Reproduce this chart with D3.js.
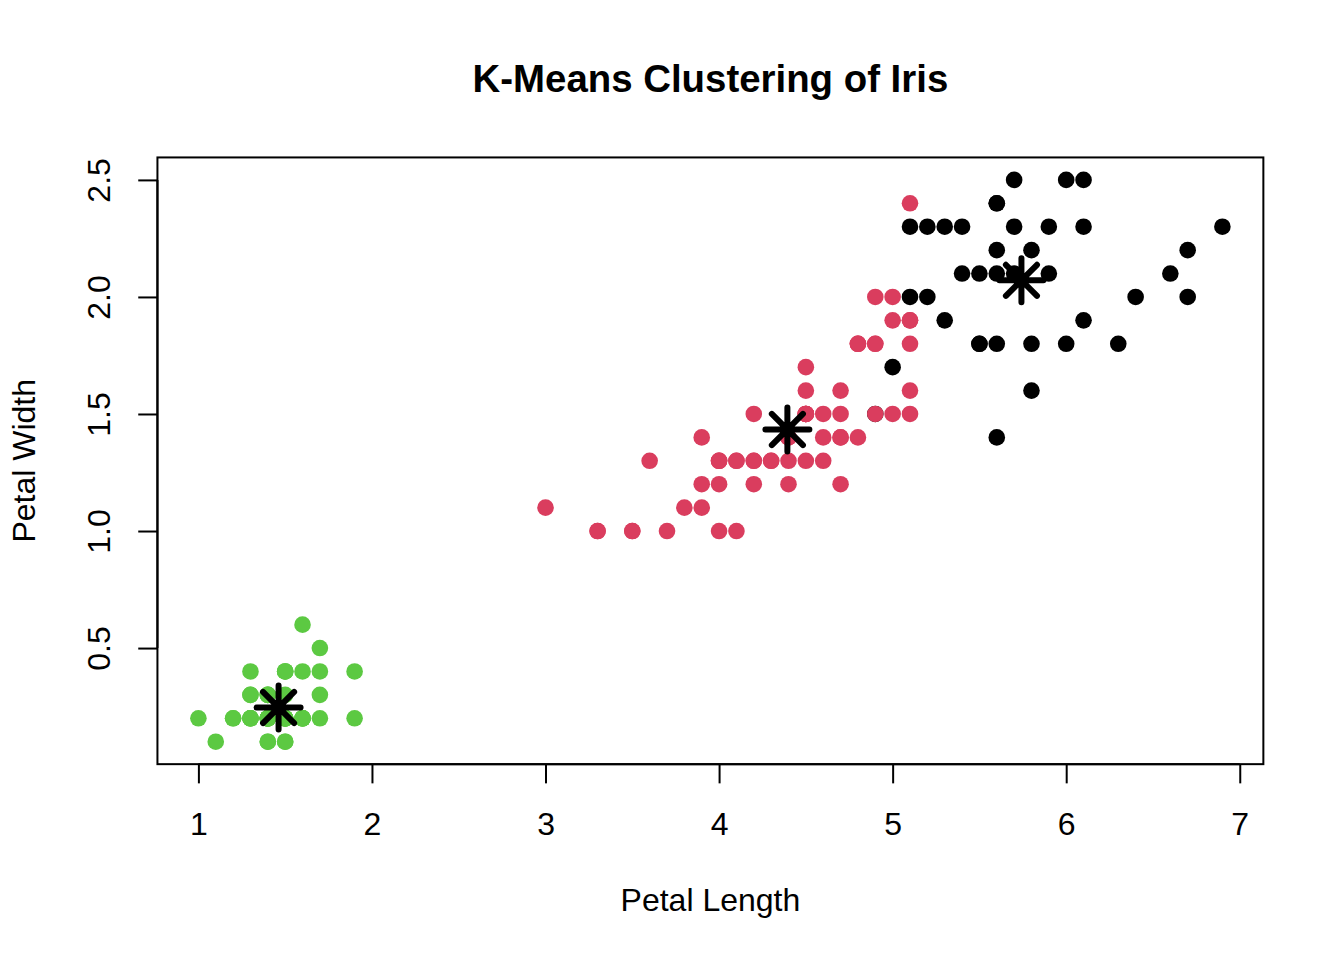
<!DOCTYPE html>
<html lang="en">
<head>
<meta charset="UTF-8">
<title>K-Means Clustering of Iris</title>
<script src="https://d3js.org/d3.v7.min.js"></script>
<style>
    body { margin: 0; background: #fff; }
    svg { display: block; }
    text { font-family: "Liberation Sans", Arial, Helvetica, sans-serif; fill: #000; }
    .chart-title { font-size: 38.4px; font-weight: bold; text-anchor: middle; }
    .axis-label { font-size: 32px; text-anchor: middle; }
    .tick text { font-size: 32px; }
</style>
</head>
<body>
<div id="chart"></div>
<script>
// iris petal measurements, rows 1..150 in dataset order
const petalLength = [
    1.4, 1.4, 1.3, 1.5, 1.4, 1.7, 1.4, 1.5, 1.4, 1.5,
    1.5, 1.6, 1.4, 1.1, 1.2, 1.5, 1.3, 1.4, 1.7, 1.5,
    1.7, 1.5, 1.0, 1.7, 1.9, 1.6, 1.6, 1.5, 1.4, 1.6,
    1.6, 1.5, 1.5, 1.4, 1.5, 1.2, 1.3, 1.4, 1.3, 1.5,
    1.3, 1.3, 1.3, 1.6, 1.9, 1.4, 1.6, 1.4, 1.5, 1.4,
    4.7, 4.5, 4.9, 4.0, 4.6, 4.5, 4.7, 3.3, 4.6, 3.9,
    3.5, 4.2, 4.0, 4.7, 3.6, 4.4, 4.5, 4.1, 4.5, 3.9,
    4.8, 4.0, 4.9, 4.7, 4.3, 4.4, 4.8, 5.0, 4.5, 3.5,
    3.8, 3.7, 3.9, 5.1, 4.5, 4.5, 4.7, 4.4, 4.1, 4.0,
    4.4, 4.6, 4.0, 3.3, 4.2, 4.2, 4.2, 4.3, 3.0, 4.1,
    6.0, 5.1, 5.9, 5.6, 5.8, 6.6, 4.5, 6.3, 5.8, 6.1,
    5.1, 5.3, 5.5, 5.0, 5.1, 5.3, 5.5, 6.7, 6.9, 5.0,
    5.7, 4.9, 6.7, 4.9, 5.7, 6.0, 4.8, 4.9, 5.6, 5.8,
    6.1, 6.4, 5.6, 5.1, 5.6, 6.1, 5.6, 5.5, 4.8, 5.4,
    5.6, 5.1, 5.1, 5.9, 5.7, 5.2, 5.0, 5.2, 5.4, 5.1
];
const petalWidth = [
    0.2, 0.2, 0.2, 0.2, 0.2, 0.4, 0.3, 0.2, 0.2, 0.1,
    0.2, 0.2, 0.1, 0.1, 0.2, 0.4, 0.4, 0.3, 0.3, 0.3,
    0.2, 0.4, 0.2, 0.5, 0.2, 0.2, 0.4, 0.2, 0.2, 0.2,
    0.2, 0.4, 0.1, 0.2, 0.2, 0.2, 0.2, 0.1, 0.2, 0.2,
    0.3, 0.3, 0.2, 0.6, 0.4, 0.3, 0.2, 0.2, 0.2, 0.2,
    1.4, 1.5, 1.5, 1.3, 1.5, 1.3, 1.6, 1.0, 1.3, 1.4,
    1.0, 1.5, 1.0, 1.4, 1.3, 1.4, 1.5, 1.0, 1.5, 1.1,
    1.8, 1.3, 1.5, 1.2, 1.3, 1.4, 1.4, 1.7, 1.5, 1.0,
    1.1, 1.0, 1.2, 1.6, 1.5, 1.6, 1.5, 1.3, 1.3, 1.3,
    1.2, 1.4, 1.2, 1.0, 1.3, 1.2, 1.3, 1.3, 1.1, 1.3,
    2.5, 1.9, 2.1, 1.8, 2.2, 2.1, 1.7, 1.8, 1.8, 2.5,
    2.0, 1.9, 2.1, 2.0, 2.4, 2.3, 1.8, 2.2, 2.3, 1.5,
    2.3, 2.0, 2.0, 1.8, 2.1, 1.8, 1.8, 1.8, 2.1, 1.6,
    1.9, 2.0, 2.2, 1.5, 1.4, 2.3, 2.4, 1.8, 1.8, 2.1,
    2.4, 2.3, 1.9, 2.3, 2.5, 2.3, 1.9, 2.0, 2.3, 1.8
];
// cluster assignment (1 = black, 2 = red, 3 = green)
const cluster = [
    3, 3, 3, 3, 3, 3, 3, 3, 3, 3,
    3, 3, 3, 3, 3, 3, 3, 3, 3, 3,
    3, 3, 3, 3, 3, 3, 3, 3, 3, 3,
    3, 3, 3, 3, 3, 3, 3, 3, 3, 3,
    3, 3, 3, 3, 3, 3, 3, 3, 3, 3,
    2, 2, 1, 2, 2, 2, 2, 2, 2, 2,
    2, 2, 2, 2, 2, 2, 2, 2, 2, 2,
    2, 2, 2, 2, 2, 2, 2, 1, 2, 2,
    2, 2, 2, 2, 2, 2, 2, 2, 2, 2,
    2, 2, 2, 2, 2, 2, 2, 2, 2, 2,
    1, 2, 1, 1, 1, 1, 2, 1, 1, 1,
    1, 1, 1, 2, 2, 1, 1, 1, 1, 2,
    1, 2, 1, 2, 1, 1, 2, 2, 1, 1,
    1, 1, 1, 2, 1, 1, 1, 1, 2, 1,
    1, 1, 2, 1, 1, 1, 2, 1, 1, 2
];
const clusterColors = ["#000000", "#DA3D5E", "#5CC942"];

// cluster centres on the petal dimensions
const centerLength = [5.742105, 4.393548, 1.462];
const centerWidth = [2.071053, 1.433871, 0.246];

const xTicks = [1, 2, 3, 4, 5, 6, 7];
const yTicks = [0.5, 1.0, 1.5, 2.0, 2.5];
const yTickLabels = ["0.5", "1.0", "1.5", "2.0", "2.5"];

const width = 1344, height = 960;
const line = 38.4;
const margin = { top: 4.1 * line, right: 2.1 * line, bottom: 5.1 * line, left: 4.1 * line };
const plotLeft = margin.left, plotRight = width - margin.right;
const plotTop = margin.top, plotBottom = height - margin.bottom;

function padded(values) {
    const [lo, hi] = d3.extent(values);
    const pad = (hi - lo) * 0.04;
    return [lo - pad, hi + pad];
}

const xScale = d3.scaleLinear().domain(padded(petalLength)).range([plotLeft, plotRight]);
const yScale = d3.scaleLinear().domain(padded(petalWidth)).range([plotBottom, plotTop]);

const svg = d3.select("#chart").append("svg")
    .attr("width", width)
    .attr("height", height);

// points
const points = petalLength.map((d, i) => ({ x: d, y: petalWidth[i], c: cluster[i] }));
svg.append("g")
    .selectAll("circle")
    .data(points)
    .enter().append("circle")
    .attr("cx", d => xScale(d.x))
    .attr("cy", d => yScale(d.y))
    .attr("r", 8.3)
    .attr("fill", d => clusterColors[d.c - 1]);

// centres drawn as asterisks
const arm = 22;
const diag = arm * Math.SQRT1_2;
function star(cx, cy) {
    return `M${cx - arm},${cy}L${cx + arm},${cy}` +
        `M${cx},${cy - arm}L${cx},${cy + arm}` +
        `M${cx - diag},${cy - diag}L${cx + diag},${cy + diag}` +
        `M${cx - diag},${cy + diag}L${cx + diag},${cy - diag}`;
}
svg.append("g")
    .selectAll("path")
    .data(centerLength.map((d, i) => ({ x: d, y: centerWidth[i] })))
    .enter().append("path")
    .attr("d", d => star(xScale(d.x), yScale(d.y)))
    .attr("fill", "none")
    .attr("stroke", "#000")
    .attr("stroke-width", 6)
    .attr("stroke-linecap", "round");

// box
svg.append("rect")
    .attr("x", plotLeft)
    .attr("y", plotTop)
    .attr("width", plotRight - plotLeft)
    .attr("height", plotBottom - plotTop)
    .attr("fill", "none")
    .attr("stroke", "#000")
    .attr("stroke-width", 2);

// axes
const xAxis = svg.append("g")
    .attr("transform", `translate(0,${plotBottom})`)
    .call(d3.axisBottom(xScale).tickValues(xTicks).tickSize(line / 2).tickFormat(d3.format("d")));
xAxis.select(".domain").remove();
xAxis.selectAll(".tick line").attr("stroke", "#000").attr("stroke-width", 2);
xAxis.selectAll(".tick text").attr("y", 71).attr("dy", null).attr("fill", "#000");
xAxis.append("line")
    .attr("x1", xScale(xTicks[0])).attr("x2", xScale(xTicks[xTicks.length - 1]))
    .attr("stroke", "#000").attr("stroke-width", 2);

const yAxis = svg.append("g")
    .attr("transform", `translate(${plotLeft},0)`)
    .call(d3.axisLeft(yScale).tickValues(yTicks).tickSize(line / 2).tickFormat((d, i) => yTickLabels[i]));
yAxis.select(".domain").remove();
yAxis.selectAll(".tick line").attr("stroke", "#000").attr("stroke-width", 2);
yAxis.selectAll(".tick text")
    .attr("x", null).attr("dy", null)
    .attr("text-anchor", "middle")
    .attr("transform", "translate(-47,0) rotate(-90)")
    .attr("fill", "#000");
yAxis.append("line")
    .attr("y1", yScale(yTicks[0])).attr("y2", yScale(yTicks[yTicks.length - 1]))
    .attr("stroke", "#000").attr("stroke-width", 2);

// titles
svg.append("text")
    .attr("class", "chart-title")
    .attr("x", (plotLeft + plotRight) / 2)
    .attr("y", 92)
    .text("K-Means Clustering of Iris");

svg.append("text")
    .attr("class", "axis-label")
    .attr("x", (plotLeft + plotRight) / 2)
    .attr("y", 911)
    .text("Petal Length");

svg.append("text")
    .attr("class", "axis-label")
    .attr("transform", `translate(35,${(plotTop + plotBottom) / 2}) rotate(-90)`)
    .text("Petal Width");
</script>
</body>
</html>
